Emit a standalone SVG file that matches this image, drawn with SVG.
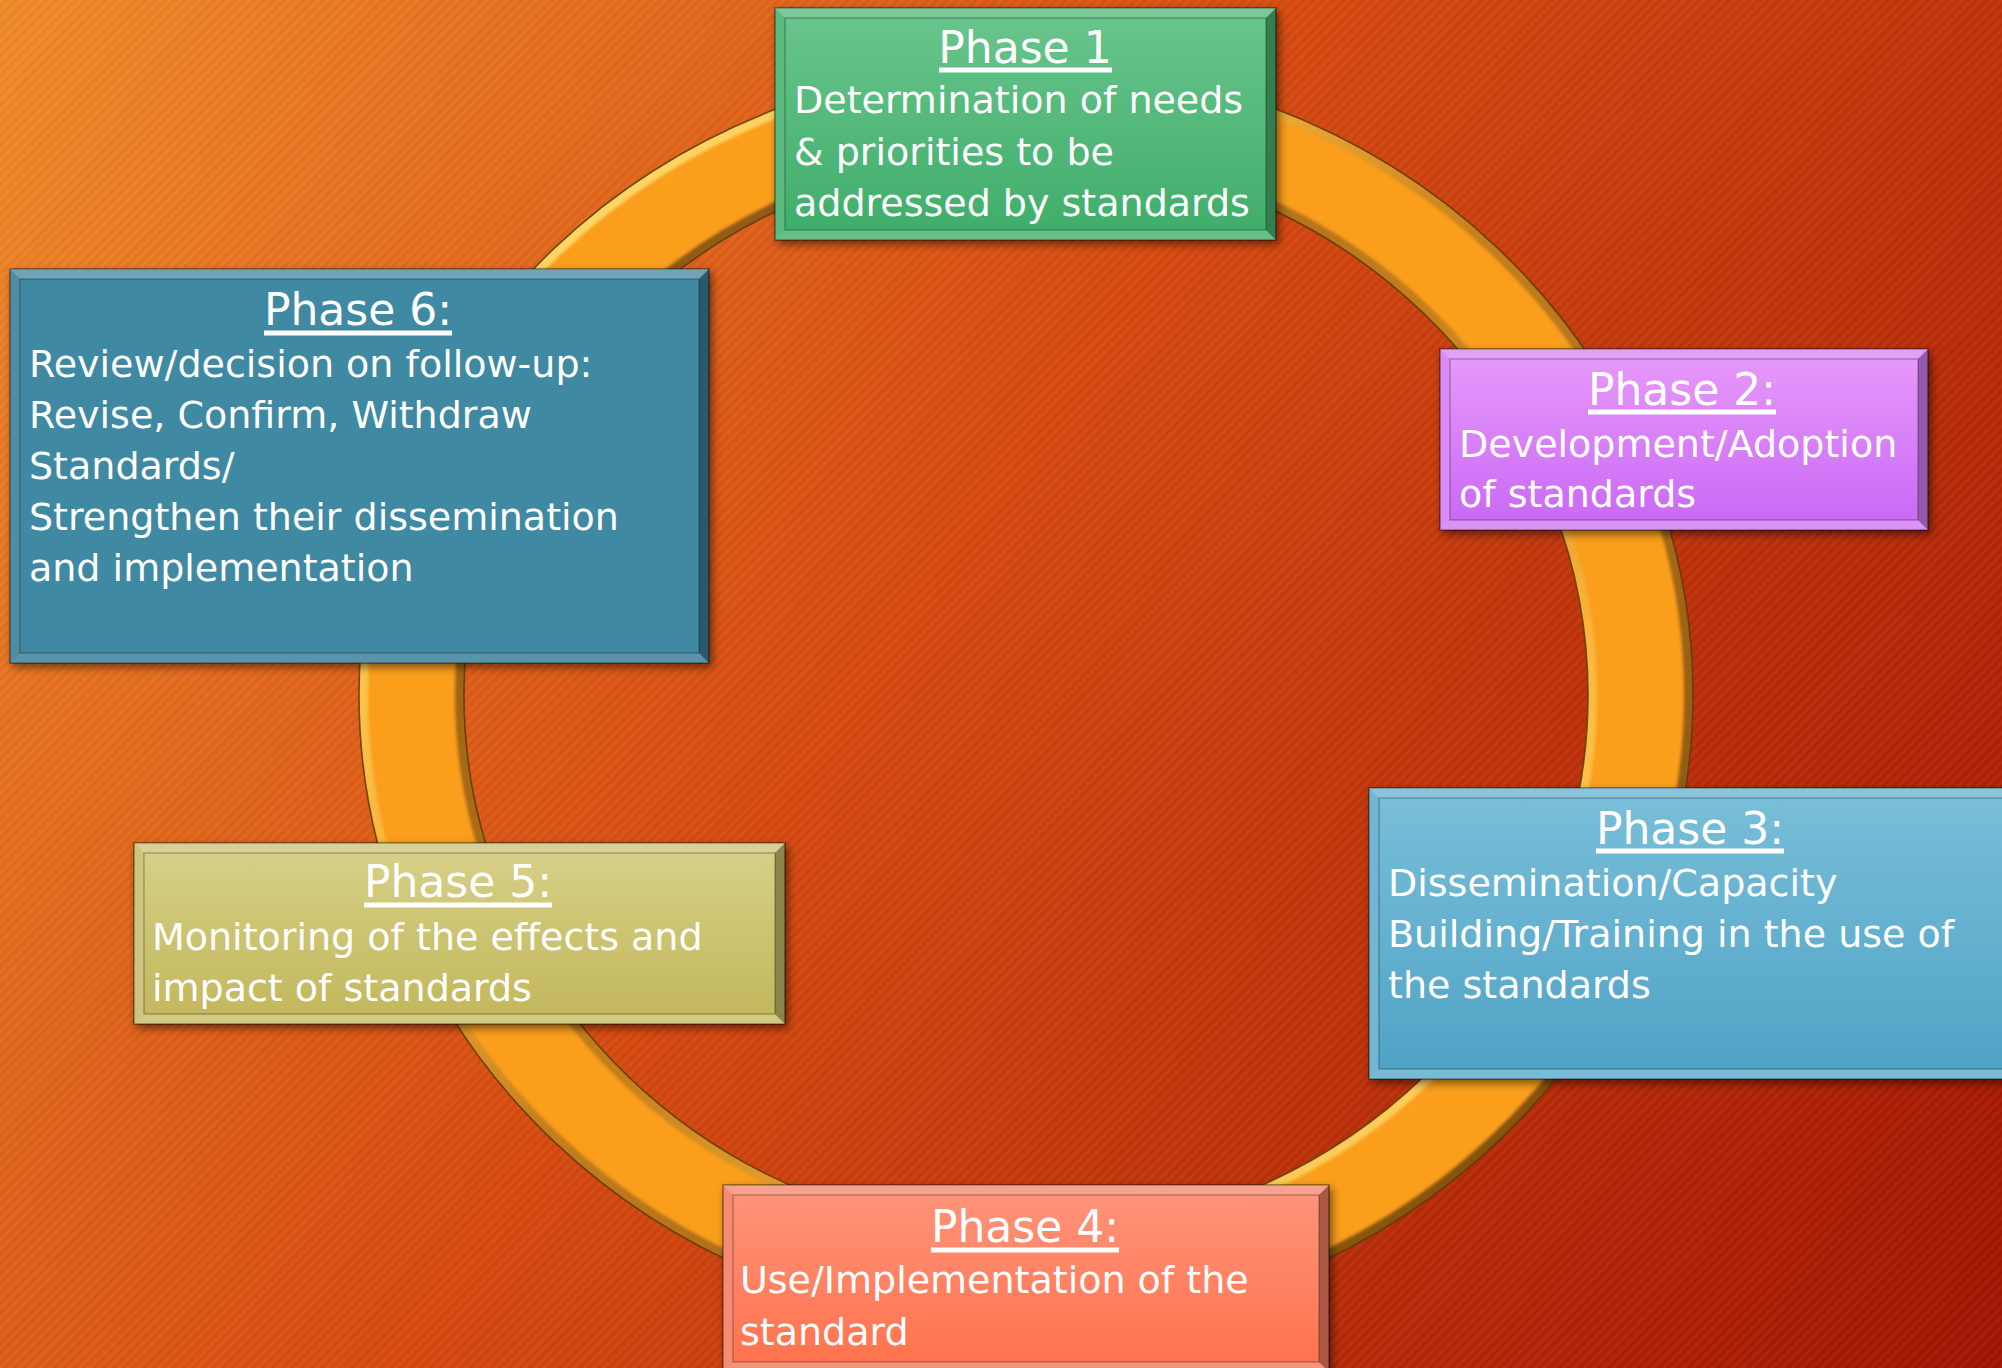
<svg xmlns="http://www.w3.org/2000/svg" width="2002" height="1368" viewBox="0 0 2002 1368">
<defs>
<linearGradient id="bg" x1="0" y1="0" x2="2002" y2="1368" gradientUnits="userSpaceOnUse">
<stop offset="0" stop-color="#EF8A2A"/>
<stop offset="0.45" stop-color="#D54A10"/>
<stop offset="1" stop-color="#A01402"/>
</linearGradient>
<pattern id="stripes" width="7" height="7" patternUnits="userSpaceOnUse" patternTransform="rotate(-45)">
<rect width="7" height="3" fill="#ffffff" fill-opacity="0.035"/>
<rect y="3.5" width="7" height="2" fill="#000000" fill-opacity="0.03"/>
</pattern>
<linearGradient id="gOut" x1="480" y1="120" x2="1560" y2="1260" gradientUnits="userSpaceOnUse">
<stop offset="0" stop-color="#FFE478"/>
<stop offset="0.3" stop-color="#F9B53A"/>
<stop offset="0.5" stop-color="#C47E1C"/>
<stop offset="1" stop-color="#7A4A0E"/>
</linearGradient>
<linearGradient id="gIn" x1="480" y1="120" x2="1560" y2="1260" gradientUnits="userSpaceOnUse">
<stop offset="0" stop-color="#7A4A0E"/>
<stop offset="0.5" stop-color="#C47E1C"/>
<stop offset="0.72" stop-color="#F9B53A"/>
<stop offset="1" stop-color="#FFE478"/>
</linearGradient>
<clipPath id="ringClip">
<path clip-rule="evenodd" d="M359,695 a667,632 0 1,0 1334,0 a667,632 0 1,0 -1334,0 Z M464,695 a562,540 0 1,0 1124,0 a562,540 0 1,0 -1124,0 Z"/>
</clipPath>
<filter id="soft" x="-5%" y="-5%" width="110%" height="110%"><feGaussianBlur stdDeviation="1.6"/></filter>
<filter id="shadow" x="-10%" y="-10%" width="125%" height="130%">
<feDropShadow dx="3" dy="4" stdDeviation="4" flood-color="#000" flood-opacity="0.5"/>
</filter>
<linearGradient id="fGreen" x1="0" y1="0" x2="0" y2="1"><stop offset="0" stop-color="#68C48B"/><stop offset="1" stop-color="#40AE6B"/></linearGradient>
<linearGradient id="fTeal" x1="0" y1="0" x2="0" y2="1"><stop offset="0" stop-color="#4089A3"/><stop offset="1" stop-color="#4089A3"/></linearGradient>
<linearGradient id="fViolet" x1="0" y1="0" x2="0" y2="1"><stop offset="0" stop-color="#E698FA"/><stop offset="1" stop-color="#CA6AF5"/></linearGradient>
<linearGradient id="fBlue" x1="0" y1="0" x2="0" y2="1"><stop offset="0" stop-color="#78BED8"/><stop offset="1" stop-color="#50A3C6"/></linearGradient>
<linearGradient id="fSalmon" x1="0" y1="0" x2="0" y2="1"><stop offset="0" stop-color="#FF9379"/><stop offset="1" stop-color="#FF734E"/></linearGradient>
<linearGradient id="fKhaki" x1="0" y1="0" x2="0" y2="1"><stop offset="0" stop-color="#D6CF86"/><stop offset="1" stop-color="#C3B85D"/></linearGradient>
</defs>
<style>
.base{filter:url(#shadow);stroke:#000;stroke-opacity:.45;stroke-width:1.5}
.bt{fill:#fff;fill-opacity:.28}
.bl{fill:#fff;fill-opacity:.1}
.bb{fill:#fff;fill-opacity:.16}
.br{fill:#000;fill-opacity:.3}
.inner{stroke:#000;stroke-opacity:.25;stroke-width:1.5}
.title{font-family:"DejaVu Sans",Verdana,sans-serif;font-size:44px;fill:#fff;text-anchor:middle}
.body{font-family:"DejaVu Sans",Verdana,sans-serif;font-size:38px;fill:#fff}
.ul{stroke:#fff;stroke-width:5}
</style>
<rect width="2002" height="1368" fill="url(#bg)"/>
<rect width="2002" height="1368" fill="url(#stripes)"/>

<g id="connectors">
<path d="M359,695 a667,632 0 1,0 1334,0 a667,632 0 1,0 -1334,0 Z M464,695 a562,540 0 1,0 1124,0 a562,540 0 1,0 -1124,0 Z" fill="#FA9E1C" fill-rule="evenodd"/>
<g clip-path="url(#ringClip)">
<g filter="url(#soft)">
<ellipse cx="1026" cy="695" rx="667" ry="632" fill="none" stroke="url(#gOut)" stroke-width="18"/>
<ellipse cx="1026" cy="695" rx="562" ry="540" fill="none" stroke="url(#gIn)" stroke-width="18"/>
</g>
</g>
<ellipse cx="1026" cy="695" rx="667" ry="632" fill="none" stroke="#5A380A" stroke-width="1.6" stroke-opacity=".85"/>
<ellipse cx="1026" cy="695" rx="562" ry="540" fill="none" stroke="#5A380A" stroke-width="1.6" stroke-opacity=".85"/>
</g>

<g id="phase1">
<rect class="base" x="775" y="8" width="501" height="232" fill="#48B472"/>
<polygon class="bt" points="775,8 1276,8 1266,18 785,18"/>
<polygon class="bl" points="775,8 785,18 785,230 775,240"/>
<polygon class="bb" points="775,240 785,230 1266,230 1276,240"/>
<polygon class="br" points="1276,8 1276,240 1266,230 1266,18"/>
<rect class="inner" x="785" y="18" width="481" height="212" fill="url(#fGreen)"/>
<text class="title" x="1025" y="63">Phase 1</text>
<line class="ul" x1="939" y1="70" x2="1112" y2="70"/>
<text class="body" x="794" y="113">Determination of needs</text>
<text class="body" x="794" y="165">&amp; priorities to be</text>
<text class="body" x="794" y="216">addressed by standards</text>
</g>

<g id="phase2">
<rect class="base" x="1440" y="349" width="488" height="181" fill="#D57EF7"/>
<polygon class="bt" points="1440,349 1928,349 1918,359 1450,359"/>
<polygon class="bl" points="1440,349 1450,359 1450,520 1440,530"/>
<polygon class="bb" points="1440,530 1450,520 1918,520 1928,530"/>
<polygon class="br" points="1928,349 1928,530 1918,520 1918,359"/>
<rect class="inner" x="1450" y="359" width="468" height="161" fill="url(#fViolet)"/>
<text class="title" x="1682" y="405">Phase 2:</text>
<line class="ul" x1="1588" y1="412" x2="1776" y2="412"/>
<text class="body" x="1459" y="457">Development/Adoption</text>
<text class="body" x="1459" y="507">of standards</text>
</g>

<g id="phase3">
<rect class="base" x="1369" y="788" width="643" height="291" fill="#5FAFD0"/>
<polygon class="bt" points="1369,788 2012,788 2002,798 1379,798"/>
<polygon class="bl" points="1369,788 1379,798 1379,1069 1369,1079"/>
<polygon class="bb" points="1369,1079 1379,1069 2002,1069 2012,1079"/>
<rect class="inner" x="1379" y="798" width="633" height="271" fill="url(#fBlue)"/>
<text class="title" x="1690" y="844">Phase 3:</text>
<line class="ul" x1="1596" y1="851" x2="1784" y2="851"/>
<text class="body" x="1388" y="896">Dissemination/Capacity</text>
<text class="body" x="1388" y="947">Building/Training in the use of</text>
<text class="body" x="1388" y="998">the standards</text>
</g>

<g id="phase4">
<rect class="base" x="723" y="1185" width="606" height="187" fill="#F47E60"/>
<polygon class="bt" points="723,1185 1329,1185 1319,1195 733,1195"/>
<polygon class="bl" points="723,1185 733,1195 733,1362 723,1372"/>
<polygon class="bb" points="723,1372 733,1362 1319,1362 1329,1372"/>
<polygon class="br" points="1329,1185 1329,1372 1319,1362 1319,1195"/>
<rect class="inner" x="733" y="1195" width="586" height="167" fill="url(#fSalmon)"/>
<text class="title" x="1025" y="1242">Phase 4:</text>
<line class="ul" x1="931" y1="1250" x2="1119" y2="1250"/>
<text class="body" x="740" y="1293">Use/Implementation of the</text>
<text class="body" x="740" y="1345">standard</text>
</g>

<g id="phase5">
<rect class="base" x="134" y="843" width="651" height="181" fill="#C8BF6C"/>
<polygon class="bt" points="134,843 785,843 775,853 144,853"/>
<polygon class="bl" points="134,843 144,853 144,1014 134,1024"/>
<polygon class="bb" points="134,1024 144,1014 775,1014 785,1024"/>
<polygon class="br" points="785,843 785,1024 775,1014 775,853"/>
<rect class="inner" x="144" y="853" width="631" height="161" fill="url(#fKhaki)"/>
<text class="title" x="458" y="897">Phase 5:</text>
<line class="ul" x1="364" y1="905" x2="552" y2="905"/>
<text class="body" x="152" y="950">Monitoring of the effects and</text>
<text class="body" x="152" y="1001">impact of standards</text>
</g>

<g id="phase6">
<rect class="base" x="10" y="269" width="699" height="394" fill="#3A809A"/>
<polygon class="bt" points="10,269 709,269 699,279 20,279"/>
<polygon class="bl" points="10,269 20,279 20,653 10,663"/>
<polygon class="bb" points="10,663 20,653 699,653 709,663"/>
<polygon class="br" points="709,269 709,663 699,653 699,279"/>
<rect class="inner" x="20" y="279" width="679" height="374" fill="url(#fTeal)"/>
<text class="title" x="358" y="325">Phase 6:</text>
<line class="ul" x1="264" y1="333" x2="452" y2="333"/>
<text class="body" x="29" y="377">Review/decision on follow-up:</text>
<text class="body" x="29" y="428">Revise, Confirm, Withdraw</text>
<text class="body" x="29" y="479">Standards/</text>
<text class="body" x="29" y="530">Strengthen their dissemination</text>
<text class="body" x="29" y="581">and implementation</text>
</g>
</svg>
